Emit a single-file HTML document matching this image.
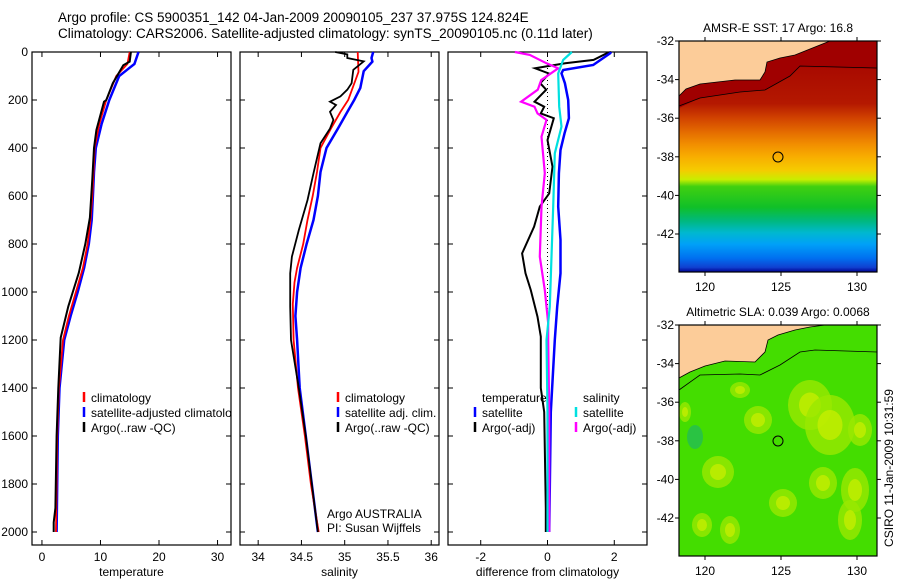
<!DOCTYPE html>
<html><head><meta charset="utf-8"><style>
html,body{margin:0;padding:0;background:#fff}
svg{display:block;font-family:"Liberation Sans",sans-serif}
text{font-size:12px;fill:#000}
</style></head><body>
<svg id="fig" width="900" height="580" viewBox="0 0 900 580" xmlns="http://www.w3.org/2000/svg">
<text x="58" y="22" style="font-size:13.5px">Argo profile: CS 5900351_142 04-Jan-2009 20090105_237 37.975S 124.824E</text>
<text x="58" y="38" style="font-size:13.5px">Climatology: CARS2006. Satellite-adjusted climatology: synTS_20090105.nc (0.11d later)</text>
<g id="panels"></g>
<g id="maps"></g>
</svg>
<script>
// depth axis
const depthTicks=[0,200,400,600,800,1000,1200,1400,1600,1800,2000];
// temperature panel
const tTicks=[0,10,20,30];
const tClimDepth=[0,50,100,200,300,400,500,600,700,800,900,1000,1100,1200,1400,1600,2000];
const tClim=[15.0,14.6,12.7,11.0,9.8,9.0,8.8,8.6,8.3,7.8,7.0,5.8,4.6,3.6,2.9,2.6,2.4];
const tSat=[16.5,15.8,13.2,11.5,10.2,9.2,8.9,8.7,8.5,8.0,7.2,6.1,4.9,3.8,3.0,2.7,2.5];
const tArgoDepth=[0,40,55,130,200,207,325,400,530,690,800,920,1060,1190,1400,1600,1900,1960,2000];
const tArgo=[15.2,15.0,13.9,12.1,11.0,10.6,9.3,8.9,8.6,8.2,7.4,6.3,4.5,3.2,2.8,2.5,2.3,2.0,2.0];
// salinity panel
const sTicks=[34,34.5,35,35.5,36];
const sClimDepth=[0,83,200,250,320,400,500,600,700,800,900,960,1050,1200,1400,1600,1800,2000];
const sClim=[35.15,35.16,35.04,34.95,34.84,34.72,34.68,34.63,34.57,34.52,34.45,34.42,34.40,34.41,34.46,34.54,34.61,34.70];
const sSatDepth=[0,25,40,80,150,200,250,320,400,500,600,700,800,900,1000,1100,1200,1400,1600,1800,2000];
const sSat=[35.33,35.31,35.32,35.22,35.18,35.11,35.03,34.92,34.79,34.72,34.69,34.64,34.56,34.49,34.45,34.43,34.45,34.48,34.55,34.62,34.69];
const sArgoDepth=[0,10,25,39,74,130,157,185,207,221,249,283,319,380,505,617,742,853,922,1061,1200,1400,1600,1800,2000];
const sArgo=[34.89,35.03,35.03,35.22,35.10,35.08,35.03,34.95,34.83,34.90,34.83,34.87,34.83,34.72,34.64,34.57,34.47,34.39,34.37,34.37,34.38,34.47,34.55,34.62,34.69];
// difference panel
const dTicks=[-2,0,2];
const dTSatDepth=[0,5,54,75,89,130,200,276,339,408,505,644,783,922,1061,1200,1500,2000];
const dTSat=[1.9,1.88,1.37,0.47,0.42,0.52,0.62,0.64,0.51,0.39,0.34,0.32,0.39,0.39,0.29,0.22,0.1,0.05];
const dTArgoDepth=[0,5,33,47,68,90,130,157,207,228,256,276,367,478,589,644,728,839,922,992,1103,1186,1400,1500,1900,2000];
const dTArgo=[1.9,1.78,1.38,0.53,-0.37,0.05,-0.22,-0.04,-0.39,-0.1,-0.2,0.19,0.0,0.15,0.05,-0.23,-0.4,-0.76,-0.66,-0.5,-0.3,-0.2,-0.2,-0.1,-0.05,-0.05];
const dSSatDepth=[0,33,89,228,311,422,644,853,1061,1200,1500,2000];
const dSSat=[0.73,0.47,0.32,0.35,0.42,0.22,0.17,0.12,0.07,-0.03,0.0,0.0];
const dSArgoDepth=[0,12,47,68,117,157,207,228,256,283,353,505,644,853,992,1131,1200,1500,2000];
const dSArgo=[-0.98,-0.53,-0.03,0.32,-0.19,-0.29,-0.79,-0.39,-0.3,-0.03,-0.18,-0.08,-0.18,-0.23,-0.08,0.02,0.02,0.05,0.05];

const NS='http://www.w3.org/2000/svg';
function el(tag,attrs,parent,txt){const e=document.createElementNS(NS,tag);for(const k in attrs)e.setAttribute(k,attrs[k]);if(txt!==undefined)e.textContent=txt;parent.appendChild(e);return e;}
const Y0=52,Y1=545;
function yD(d){return 52+d*0.24;}
const panels=document.getElementById('panels');
function panel(name,x0,x1,xmin,xmax,ticks,label,yLabels){
  const g=el('g',{},panels);
  
  
  const sx=v=>x0+(v-xmin)/(xmax-xmin)*(x1-x0);
  const fr=el('rect',{x:x0,y:Y0,width:x1-x0,height:Y1-Y0,fill:'none',stroke:'#000','stroke-width':1.2},g);
  
  
  ticks.forEach(t=>{const x=sx(t);
    el('line',{x1:x,x2:x,y1:Y0,y2:Y0+5,stroke:'#000'},g);
    el('line',{x1:x,x2:x,y1:Y1,y2:Y1-5,stroke:'#000'},g);
    const tl=el('text',{x:x,y:Y1+16,'text-anchor':'middle'},g,String(t));
    
    
  });
  depthTicks.forEach(d=>{const y=yD(d);
    el('line',{x1:x0,x2:x0+5,y1:y,y2:y,stroke:'#000'},g);
    el('line',{x1:x1,x2:x1-5,y1:y,y2:y,stroke:'#000'},g);
    if(yLabels){const tl=el('text',{x:x0-4,y:y+4,'text-anchor':'end'},g,String(d));
      
      }
  });
  const xl=el('text',{x:(x0+x1)/2,y:576,'text-anchor':'middle'},g,label);
  
  
  return {g,sx};
}
function series(p,name,depths,vals,color,w){
  const pts=depths.map((d,i)=>p.sx(vals[i]).toFixed(1)+','+yD(d).toFixed(1)).join(' ');
  const l=el('polyline',{points:pts,fill:'none',stroke:color,'stroke-width':w,'stroke-linejoin':'miter'},p.g);
  
  
}
function legend(p,x,y,color,label,name){
  if(color){const m=el('line',{x1:x,x2:x,y1:y-10,y2:y,stroke:color,'stroke-width':2.5},p.g);
    
    }
  const t=el('text',{x:x+7,y:y},p.g,label);
  
  
}
const P1=panel('temperature',32,231,-1.7,32.3,tTicks,'temperature',true);
series(P1,'temperature-satellite-line',tClimDepth,tSat,'#0000ff',2.5);
series(P1,'temperature-climatology-line',tClimDepth,tClim,'#ff0000',1.8);
series(P1,'temperature-argo-line',tArgoDepth,tArgo,'#000',2);
const clip1=el('clipPath',{id:'c1'},panels);el('rect',{x:32,y:0,width:199,height:580},clip1);
const lg1=el('g',{'clip-path':'url(#c1)'},P1.g);
legend({g:lg1},84,402,'#ff0000','climatology','legend-climatology');
legend({g:lg1},84,417,'#0000ff','satellite-adjusted climatology','legend-satellite-adjusted');
legend({g:lg1},84,432,'#000','Argo(..raw -QC)','legend-argo');

const P2=panel('salinity',240,439,33.79,36.09,sTicks,'salinity',false);
series(P2,'salinity-satellite-line',sSatDepth,sSat,'#0000ff',2.5);
series(P2,'salinity-climatology-line',sClimDepth,sClim,'#ff0000',1.8);
series(P2,'salinity-argo-line',sArgoDepth,sArgo,'#000',1.8);
legend(P2,338,402,'#ff0000','climatology','legend-sal-climatology');
legend(P2,338,417,'#0000ff','satellite adj. clim.','legend-sal-satellite');
legend(P2,338,432,'#000','Argo(..raw -QC)','legend-sal-argo');
const a1=el('text',{x:327,y:518},P2.g,'Argo AUSTRALIA');
const a2=el('text',{x:327,y:532},P2.g,'PI: Susan Wijffels');

const P3=panel('difference',448,647,-2.98,2.98,dTicks,'difference from climatology',false);
el('line',{x1:P3.sx(0),x2:P3.sx(0),y1:Y0,y2:yD(2000),stroke:'#000','stroke-dasharray':'1,3'},P3.g);
series(P3,'diff-temp-argo-line',dTArgoDepth,dTArgo,'#000',2);
series(P3,'diff-temp-satellite-line',dTSatDepth,dTSat,'#0000ff',2.5);
series(P3,'diff-sal-argo-line',dSArgoDepth,dSArgo,'#ff00ff',2.2);
series(P3,'diff-sal-satellite-line',dSSatDepth,dSSat,'#00e0e0',2.2);
legend(P3,475,402,null,'temperature','legend-temperature-header');
legend(P3,475,417,'#0000ff','satellite','legend-temp-satellite');
legend(P3,475,432,'#000','Argo(-adj)','legend-temp-argo');
legend(P3,576,402,null,'salinity','legend-salinity-header');
legend(P3,576,417,'#00e0e0','satellite','legend-sal-sat');
legend(P3,576,432,'#ff00ff','Argo(-adj)','legend-sal-argo-diff');

// maps
const latTicks=[-32,-34,-36,-38,-40,-42];
const lonTicks=[120,125,130];
const maps=document.getElementById('maps');
const MX0=679,MX1=877;
function lonX(l){return 705+(l-120)*15.2;}
function mapFrame(name,top,bottom,title,lonLabY){
  const g=el('g',{},maps);
  
  
  const sy=lat=>top+(-32-lat)*19.3;
  const t=el('text',{x:778,y:top-9,'text-anchor':'middle'},g,title);
  
  
  return {g,sy,top,bottom,lonLabY};
}
function mapAxes(m){
  el('rect',{x:MX0,y:m.top,width:MX1-MX0,height:m.bottom-m.top,fill:'none',stroke:'#000','stroke-width':1.2},m.g);
  latTicks.forEach(l=>{const y=m.sy(l);
    el('line',{x1:MX0,x2:MX0-4,y1:y,y2:y,stroke:'#000'},m.g);
    el('line',{x1:MX1,x2:MX1+4,y1:y,y2:y,stroke:'#000'},m.g);
    const t=el('text',{x:674,y:y+4,'text-anchor':'end'},m.g,String(l));
    
    });
  lonTicks.forEach(l=>{const x=lonX(l);
    el('line',{x1:x,x2:x,y1:m.top,y2:m.top-4,stroke:'#000'},m.g);
    el('line',{x1:x,x2:x,y1:m.bottom,y2:m.bottom+4,stroke:'#000'},m.g);
    const t=el('text',{x:x,y:m.lonLabY,'text-anchor':'middle'},m.g,String(l));
    
    });
}
// SST map
const m1=mapFrame('sst-map',41,272,'AMSR-E SST: 17 Argo: 16.8',291);
const gr=el('linearGradient',{id:'sstg',x1:0,y1:0,x2:0,y2:1},m1.g);
[[0,'#a00000'],[0.27,'#b41800'],[0.33,'#d04000'],[0.4,'#e67000'],[0.45,'#f29000'],[0.5,'#f8ad00'],[0.56,'#f5cc00'],[0.6,'#c8ee00'],[0.63,'#40d010'],[0.72,'#10c028'],[0.78,'#00b880'],[0.83,'#00b8d0'],[0.88,'#00a0f8'],[0.94,'#0070f0'],[0.98,'#1040d0'],[1,'#000090']].forEach(s=>el('stop',{offset:s[0],'stop-color':s[1]},gr));
el('rect',{x:MX0,y:41,width:198,height:231,fill:'url(#sstg)'},m1.g);
el('path',{d:'M679,108 L700,98 L740,92 L765,90 L790,76 L800,67 L877,69 L877,41 L679,41Z',fill:'#a00000'},m1.g);
el('path',{d:'M679,96 L686,89 L700,84 L735,80 L760,80 L765,72 L767,62 L780,58 L795,55 L820,45 L830,41 L679,41Z',fill:'#fccc99',stroke:'#000','stroke-width':0.8},m1.g);
el('path',{d:'M679,106 L700,98 L740,92 L765,90 L790,76 L800,66 L877,68',fill:'none',stroke:'#000','stroke-width':0.8},m1.g);
const c1=el('circle',{cx:778,cy:157,r:5,fill:'none',stroke:'#000'},m1.g);

mapAxes(m1);
// SLA map
const m2=mapFrame('sla-map',325,556,'Altimetric SLA: 0.039 Argo: 0.0068',575);
el('rect',{x:MX0,y:325,width:198,height:231,fill:'#44dd00'},m2.g);
const blobs=[[810,405,22,25],[830,425,25,30],[758,420,14,14],[718,472,16,16],[823,483,14,16],[855,490,14,22],[850,520,12,20],[783,503,14,14],[702,525,10,12],[730,530,10,14],[685,412,6,10],[740,390,10,8],[860,430,12,16]];
blobs.forEach(b=>{el('ellipse',{cx:b[0],cy:b[1],rx:b[2],ry:b[3],fill:'#9ae800',opacity:0.8},m2.g);el('ellipse',{cx:b[0],cy:b[1],rx:b[2]*0.5,ry:b[3]*0.5,fill:'#c4ee00',opacity:0.8},m2.g);});
el('ellipse',{cx:695,cy:437,rx:8,ry:12,fill:'#20b860',opacity:0.7},m2.g);
el('path',{d:'M679,378 L690,372 L705,366 L725,361 L755,362 L765,352 L768,340 L778,335 L795,330 L810,327 L825,325 L679,325Z',fill:'#fccc99',stroke:'#000','stroke-width':0.8},m2.g);
el('path',{d:'M679,390 L700,375 L740,374 L760,375 L780,365 L800,352 L815,350 L877,352',fill:'none',stroke:'#000','stroke-width':0.8},m2.g);
const c2=el('circle',{cx:778,cy:441,r:5,fill:'none',stroke:'#000'},m2.g);

mapAxes(m2);
const ts=el('text',{x:0,y:0,transform:'translate(893,468) rotate(-90)','text-anchor':'middle'},maps,'CSIRO 11-Jan-2009 10:31:59');

</script>
</body></html>
